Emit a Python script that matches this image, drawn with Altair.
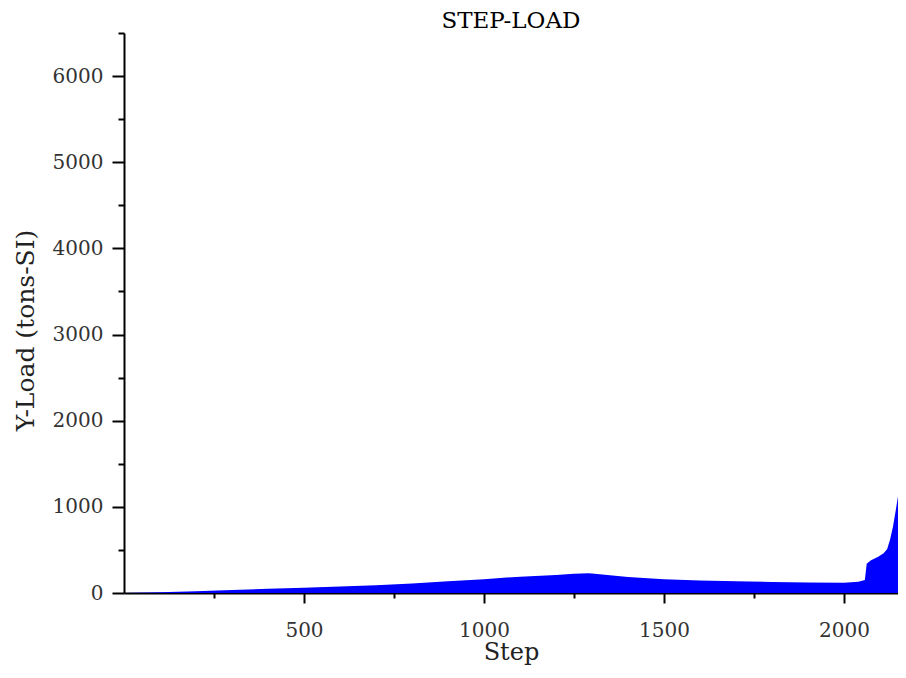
import altair as alt
import pandas as pd

# ---- data ----
steps = [0, 100, 200, 300, 400, 500, 600, 700, 800, 900, 1000, 1100, 1200,
         1250, 1290, 1300, 1350, 1400, 1500, 1600, 1700, 1800, 1900, 2000,
         2040, 2058, 2063, 2075, 2095, 2110, 2120, 2128, 2136, 2144, 2153,
         2161, 2166, 2170, 2172]
loads = [0, 8, 20, 35, 48, 62, 75, 90, 110, 135, 160, 190, 210,
         222, 230, 225, 205, 185, 160, 145, 135, 128, 122, 120,
         130, 150, 340, 380, 420, 460, 510, 620, 770, 965, 1200,
         1430, 1750, 2000, 2100]

x_ticks = [250, 500, 750, 1000, 1250, 1500, 1750, 2000]
y_ticks = [0, 500, 1000, 1500, 2000, 2500, 3000, 3500, 4000, 4500, 5000,
           5500, 6000, 6500]

df = pd.DataFrame({"Step": steps, "Load": loads})

FONT = "DejaVu Serif"

x_axis = alt.Axis(
    values=x_ticks,
    format="d",
    labelExpr="datum.value % 500 === 0 ? datum.label : ''",
    tickSize={"condition": {"test": "datum.value % 500 === 0", "value": 10}, "value": 5},
    tickWidth=2, tickColor="black",
    domainColor="black", domainWidth=2,
    grid=False, labelOverlap=False,
    labelFont=FONT, labelFontSize=20, labelColor="#333333",
    labelPadding=17,
    title="Step", titleFont=FONT, titleFontSize=24, titleFontWeight="normal",
    titleColor="#222222", titleBaseline="alphabetic", titleY=66,
)

y_axis = alt.Axis(
    values=y_ticks,
    format="d",
    labelExpr="datum.value % 1000 === 0 ? datum.label : ''",
    tickSize={"condition": {"test": "datum.value % 1000 === 0", "value": 12}, "value": 6},
    tickWidth=2, tickColor="black",
    domainColor="black", domainWidth=2,
    grid=False, labelOverlap=False,
    labelFont=FONT, labelFontSize=20, labelColor="#333333",
    labelPadding=9,
    title="Y-Load (tons-SI)", titleFont=FONT, titleFontSize=25,
    titleFontWeight="normal", titleColor="#222222",
    titleAngle=270, titleBaseline="middle", titleAlign="center",
    titleX=-99, titleY=297,
)

chart = (
    alt.Chart(df)
    .mark_area(color="#0000ff", opacity=1, clip=True)
    .encode(
        x=alt.X("Step:Q", scale=alt.Scale(domain=[0, 2150], nice=False, zero=False), axis=x_axis),
        y=alt.Y("Load:Q", scale=alt.Scale(domain=[0, 6500], nice=False), axis=y_axis),
    )
    .properties(
        width=774,
        height=560,
        title=alt.TitleParams("STEP-LOAD", font=FONT, fontSize=23, fontWeight="normal",
                              color="black", anchor="middle", offset=-10),
        autosize=alt.AutoSizeParams(type="none"),
        padding={"left": 116, "top": 25, "right": 0, "bottom": 73},
        background="white",
    )
    .configure_view(strokeWidth=0, stroke=None)
)

chart.save("out.html", embed_options={"renderer": "svg", "actions": False})
